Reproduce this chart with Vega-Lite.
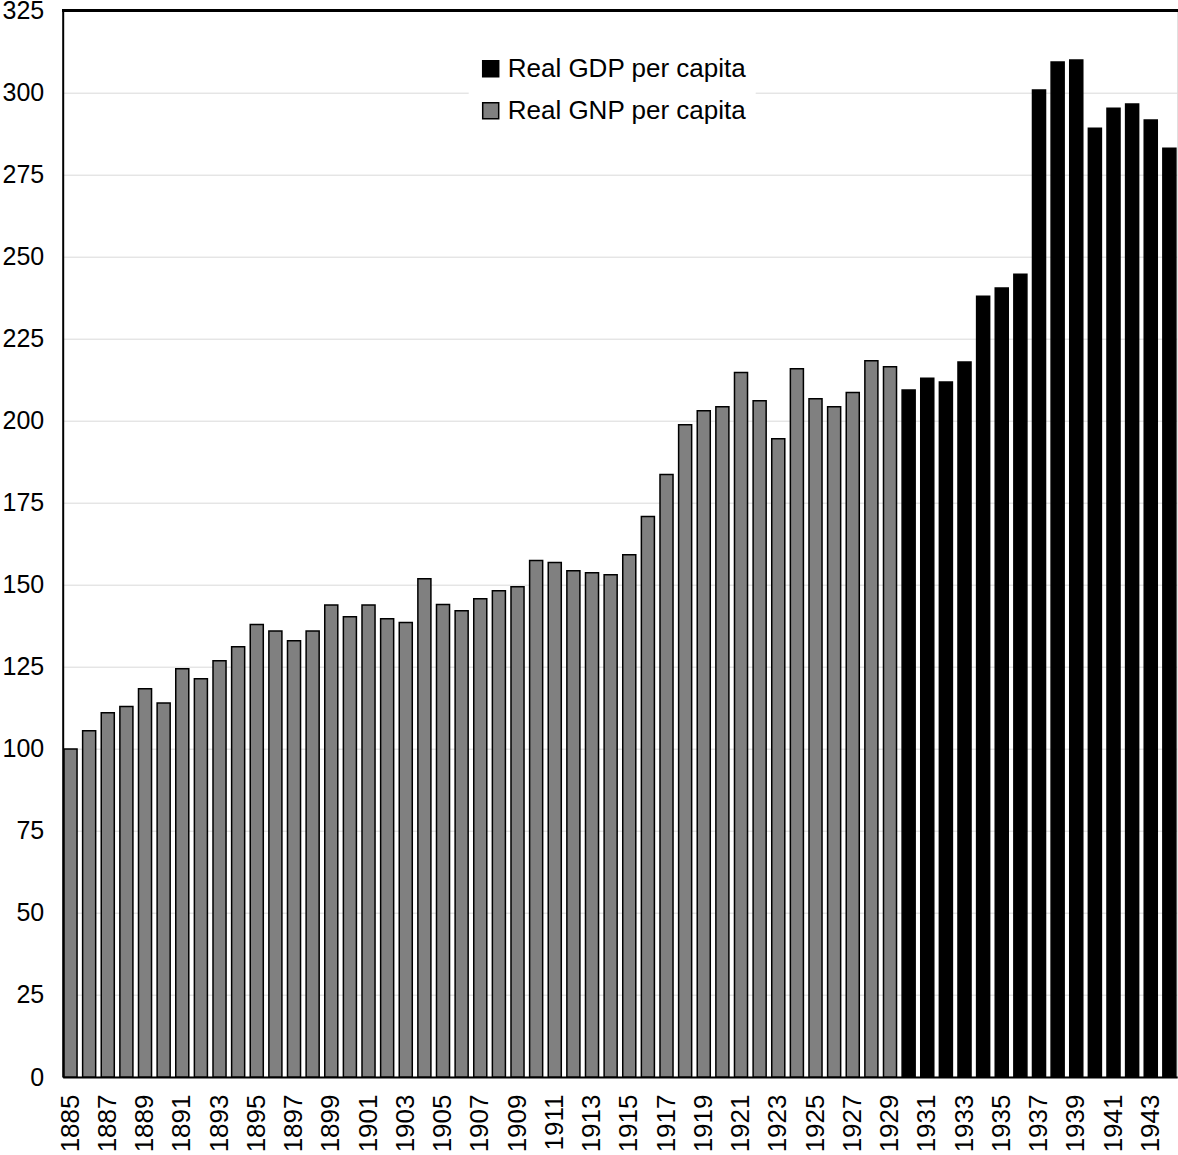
{
  "$schema": "https://vega.github.io/schema/vega-lite/v6.json",
  "width": 1114.5,
  "height": 1066.3,
  "autosize": {"type": "none"},
  "padding": {"left": 62.7, "top": 10.7, "right": 0.8, "bottom": 78},
  "background": "white",
  "config": {
    "font": "Liberation Sans",
    "view": {"stroke": "#d9d9d9", "strokeWidth": 1},
    "axis": {"labelFont": "Liberation Sans", "labelColor": "#000000", "labelFontSize": 25, "title": null}
  },
  "data": {
    "values": [
      {"year": 1885, "value": 100.0, "series": "Real GNP per capita"},
      {"year": 1886, "value": 105.5, "series": "Real GNP per capita"},
      {"year": 1887, "value": 111.0, "series": "Real GNP per capita"},
      {"year": 1888, "value": 112.9, "series": "Real GNP per capita"},
      {"year": 1889, "value": 118.3, "series": "Real GNP per capita"},
      {"year": 1890, "value": 114.0, "series": "Real GNP per capita"},
      {"year": 1891, "value": 124.4, "series": "Real GNP per capita"},
      {"year": 1892, "value": 121.4, "series": "Real GNP per capita"},
      {"year": 1893, "value": 126.9, "series": "Real GNP per capita"},
      {"year": 1894, "value": 131.1, "series": "Real GNP per capita"},
      {"year": 1895, "value": 137.9, "series": "Real GNP per capita"},
      {"year": 1896, "value": 135.9, "series": "Real GNP per capita"},
      {"year": 1897, "value": 133.0, "series": "Real GNP per capita"},
      {"year": 1898, "value": 135.9, "series": "Real GNP per capita"},
      {"year": 1899, "value": 143.9, "series": "Real GNP per capita"},
      {"year": 1900, "value": 140.3, "series": "Real GNP per capita"},
      {"year": 1901, "value": 143.9, "series": "Real GNP per capita"},
      {"year": 1902, "value": 139.7, "series": "Real GNP per capita"},
      {"year": 1903, "value": 138.5, "series": "Real GNP per capita"},
      {"year": 1904, "value": 151.9, "series": "Real GNP per capita"},
      {"year": 1905, "value": 144.0, "series": "Real GNP per capita"},
      {"year": 1906, "value": 142.1, "series": "Real GNP per capita"},
      {"year": 1907, "value": 145.8, "series": "Real GNP per capita"},
      {"year": 1908, "value": 148.2, "series": "Real GNP per capita"},
      {"year": 1909, "value": 149.4, "series": "Real GNP per capita"},
      {"year": 1910, "value": 157.4, "series": "Real GNP per capita"},
      {"year": 1911, "value": 156.8, "series": "Real GNP per capita"},
      {"year": 1912, "value": 154.3, "series": "Real GNP per capita"},
      {"year": 1913, "value": 153.7, "series": "Real GNP per capita"},
      {"year": 1914, "value": 153.1, "series": "Real GNP per capita"},
      {"year": 1915, "value": 159.2, "series": "Real GNP per capita"},
      {"year": 1916, "value": 170.8, "series": "Real GNP per capita"},
      {"year": 1917, "value": 183.6, "series": "Real GNP per capita"},
      {"year": 1918, "value": 198.8, "series": "Real GNP per capita"},
      {"year": 1919, "value": 203.1, "series": "Real GNP per capita"},
      {"year": 1920, "value": 204.3, "series": "Real GNP per capita"},
      {"year": 1921, "value": 214.7, "series": "Real GNP per capita"},
      {"year": 1922, "value": 206.1, "series": "Real GNP per capita"},
      {"year": 1923, "value": 194.5, "series": "Real GNP per capita"},
      {"year": 1924, "value": 215.9, "series": "Real GNP per capita"},
      {"year": 1925, "value": 206.7, "series": "Real GNP per capita"},
      {"year": 1926, "value": 204.3, "series": "Real GNP per capita"},
      {"year": 1927, "value": 208.6, "series": "Real GNP per capita"},
      {"year": 1928, "value": 218.3, "series": "Real GNP per capita"},
      {"year": 1929, "value": 216.5, "series": "Real GNP per capita"},
      {"year": 1930, "value": 209.4, "series": "Real GDP per capita"},
      {"year": 1931, "value": 213.0, "series": "Real GDP per capita"},
      {"year": 1932, "value": 211.8, "series": "Real GDP per capita"},
      {"year": 1933, "value": 217.9, "series": "Real GDP per capita"},
      {"year": 1934, "value": 238.0, "series": "Real GDP per capita"},
      {"year": 1935, "value": 240.5, "series": "Real GDP per capita"},
      {"year": 1936, "value": 244.7, "series": "Real GDP per capita"},
      {"year": 1937, "value": 300.8, "series": "Real GDP per capita"},
      {"year": 1938, "value": 309.4, "series": "Real GDP per capita"},
      {"year": 1939, "value": 310.0, "series": "Real GDP per capita"},
      {"year": 1940, "value": 289.2, "series": "Real GDP per capita"},
      {"year": 1941, "value": 295.3, "series": "Real GDP per capita"},
      {"year": 1942, "value": 296.6, "series": "Real GDP per capita"},
      {"year": 1943, "value": 291.7, "series": "Real GDP per capita"},
      {"year": 1944, "value": 283.1, "series": "Real GDP per capita"}
    ]
  },
  "layer": [
    {
      "mark": {"type": "bar", "stroke": "#000000", "strokeWidth": 1.5},
      "encoding": {
        "x": {
          "field": "year",
          "type": "ordinal",
          "scale": {"paddingInner": 0.3, "paddingOuter": 0.07},
          "axis": {
            "values": [1885,1887,1889,1891,1893,1895,1897,1899,1901,1903,1905,1907,1909,1911,1913,1915,1917,1919,1921,1923,1925,1927,1929,1931,1933,1935,1937,1939,1941,1943],
            "labelAngle": 270,
            "labelFontSize": 26,
            "ticks": false,
            "tickSize": 0,
            "labelPadding": 17,
            "domainColor": "#000000",
            "domainWidth": 2,
            "grid": false
          }
        },
        "y": {
          "field": "value",
          "type": "quantitative",
          "scale": {"domain": [0, 325], "nice": false},
          "axis": {
            "values": [0,25,50,75,100,125,150,175,200,225,250,275,300,325],
            "ticks": false,
            "tickSize": 0,
            "labelPadding": 19,
            "domainColor": "#000000",
            "domainWidth": 2,
            "grid": true,
            "gridColor": "#d9d9d9",
            "gridWidth": 1
          }
        },
        "color": {
          "field": "series",
          "type": "nominal",
          "scale": {"domain": ["Real GDP per capita", "Real GNP per capita"], "range": ["#000000", "#808080"]},
          "legend": {
            "title": null,
            "orient": "none",
            "legendX": 406,
            "legendY": 36,
            "padding": 9,
            "fillColor": "#ffffff",
            "labelFont": "Liberation Sans",
            "labelFontSize": 26,
            "labelColor": "#000000",
            "labelLimit": 500,
            "labelOffset": 4,
            "rowPadding": 16,
            "symbolType": "square",
            "symbolSize": 256,
            "symbolStrokeColor": "#000000",
            "symbolStrokeWidth": 1.5,
            "symbolOpacity": 1
          }
        }
      }
    },
    {
      "mark": {"type": "rule", "color": "#000000", "strokeWidth": 2},
      "encoding": {"y": {"datum": 325, "type": "quantitative"}}
    }
  ]
}
